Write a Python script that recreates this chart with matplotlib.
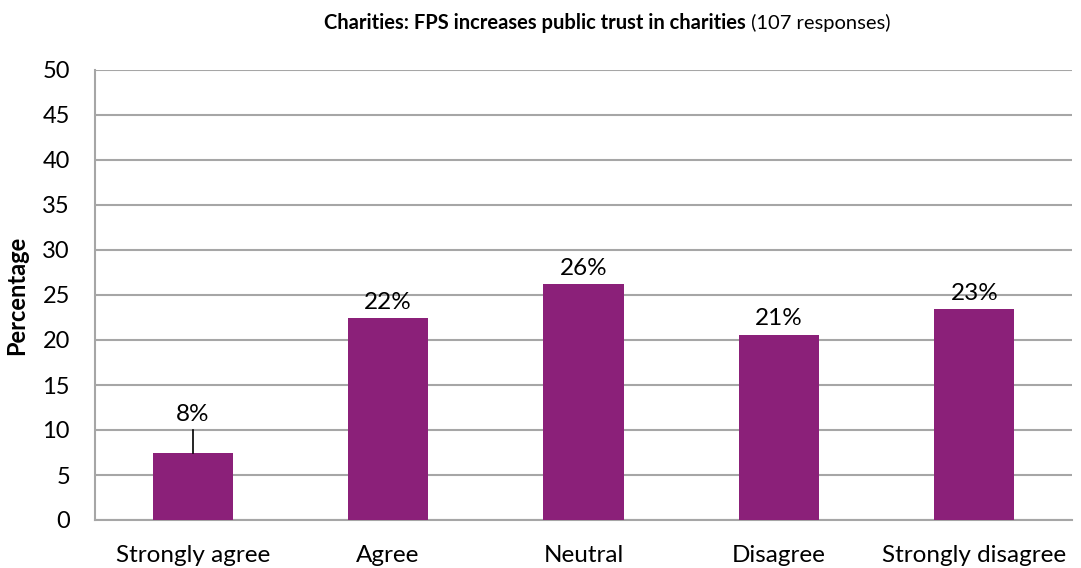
import matplotlib.pyplot as plt
import numpy as np

categories = ['Strongly agree', 'Agree', 'Neutral', 'Disagree', 'Strongly disagree']
percentages = [7.5, 22.4, 26.2, 20.6, 23.4]
yticks = [0, 5, 10, 15, 20, 25, 30, 35, 40, 45, 50]

bar_color = '#8B2079'
grid_color = '#A6A6A6'

plt.rcParams['font.family'] = ['Lato', 'DejaVu Sans']

fig = plt.figure(figsize=(10.81, 5.68), dpi=100)
ax = fig.add_axes([95 / 1081, 48 / 568, 977 / 1081, 450 / 568])

x = np.arange(len(categories))
bars = ax.bar(x, percentages, width=0.41, color=bar_color, zorder=3)

ax.set_xlim(-0.5, len(categories) - 0.5)
ax.set_ylim(0, 50)
ax.set_yticks(yticks)
ax.set_yticklabels([str(t) for t in yticks], fontsize=17)
ax.set_xticks(x)
ax.set_xticklabels(categories, fontsize=17.5)
ax.tick_params(axis='x', length=0, pad=18)
ax.tick_params(axis='y', length=0, pad=18)
ax.yaxis.grid(True, color=grid_color, linewidth=1.5, zorder=0)

for side in ['top', 'right']:
    ax.spines[side].set_visible(False)
for side in ['left', 'bottom']:
    ax.spines[side].set_color(grid_color)
    ax.spines[side].set_linewidth(1.5)

ax.set_ylabel('Percentage', fontsize=17, fontweight='bold', labelpad=10)

# value labels; the short first bar gets its label lifted with a leader line
for i, v in enumerate(percentages):
    text = '{}%'.format(int(v + 0.5))
    if v < 10:
        ax.plot([i, i], [v, 10], color='black', linewidth=1.2, zorder=4)
        ax.text(i, 10.6, text, ha='center', va='bottom', fontsize=17.5)
    else:
        ax.text(i, v + 0.6, text, ha='center', va='bottom', fontsize=17.5)

# title: bold part followed by regular response count, centred together
fig.canvas.draw()
renderer = fig.canvas.get_renderer()
t1 = fig.text(0, 0, 'Charities: FPS increases public trust in charities',
              fontsize=14.5, fontweight='bold')
t2 = fig.text(0, 0, ' (107 responses)', fontsize=14.5)
w1 = t1.get_window_extent(renderer).width
w2 = t2.get_window_extent(renderer).width
start = (607 - (w1 + w2) / 2) / 1081
ty = 1 - 23 / 568
t1.set_position((start, ty))
t1.set_va('center')
t2.set_position((start + w1 / 1081, ty))
t2.set_va('center')

fig.savefig('out.png', dpi=100)
